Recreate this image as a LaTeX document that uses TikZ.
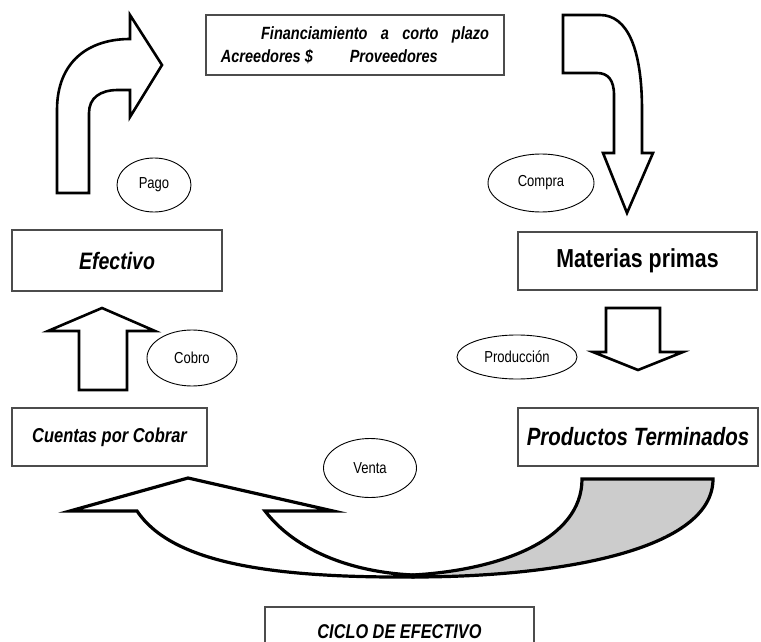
\documentclass[tikz,border=0pt]{standalone}
\usepackage{fontspec}
\usepackage{graphicx}
\setmainfont{Liberation Sans}
\usetikzlibrary{shapes.geometric}
\newcommand{\estr}[1]{\scalebox{0.82}[1]{#1}}
\begin{document}
\begin{tikzpicture}[x=1pt,y=-1pt,
	caja/.style={draw=black!70,line width=1.4pt,inner sep=0pt},
	globo/.style={draw,ellipse,line width=0.9pt,inner sep=0pt,font=\fontsize{15.9}{18}\selectfont},
	flecha/.style={draw,line width=2.6pt,fill=white}]
	\useasboundingbox (0,0) rectangle (761,642);
	% cajas
	\node[caja,minimum width=298,minimum height=60,align=left,font=\fontsize{17.7}{23}\selectfont\bfseries\itshape] (financ) at (355,45) {\estr{\makebox[327pt][s]{\hspace*{49pt}Financiamiento a corto plazo}}\\\estr{Acreedores \$\hspace{45pt}Proveedores}};
	\node[caja,minimum width=210,minimum height=61,font=\fontsize{23.8}{26}\selectfont\bfseries\itshape] (efectivo) at (117,260.5) {\estr{Efectivo}};
	\node[caja,minimum width=239,minimum height=58,font=\fontsize{26}{28}\selectfont\bfseries] (materias) at (637.5,261) {\estr{Materias primas}};
	\node[caja,minimum width=195,minimum height=58,font=\fontsize{20.1}{22}\selectfont\bfseries\itshape] (cuentas) at (109.5,437) {\estr{Cuentas por Cobrar}};
	\node[caja,minimum width=240,minimum height=58,font=\fontsize{25}{27}\selectfont\bfseries\itshape] (productos) at (638,437) {\estr{Productos Terminados}};
	\node[caja,minimum width=269,minimum height=50,font=\fontsize{19.9}{22}\selectfont\bfseries\itshape] (ciclo) at (399.5,632) {\estr{CICLO DE EFECTIVO}};
	% flechas
	\draw[flecha] (57,193) -- (57,110) .. controls (57,62) and (88,39) .. (130,39) -- (130,15) -- (162,65) -- (130,117) -- (130,90) -- (118,90) .. controls (100,90) and (89,98) .. (89,113) -- (89,193) -- cycle;
	\draw[flecha] (563,15) -- (600,15) .. controls (628,15) and (642,50) .. (642,110) -- (642,153) -- (653,153) -- (627,213) -- (603,153) -- (614,153) -- (614,95) .. controls (614,80) and (608,73) .. (597,73) -- (563,73) -- cycle;
	\draw[flecha] (79,390) -- (79,331) -- (48,331) -- (102,308) -- (155,331) -- (127,331) -- (127,390) -- cycle;
	\draw[flecha] (606,308) -- (660,308) -- (660,352) -- (683,352) -- (638,370) -- (593,352) -- (606,352) -- cycle;
	\draw[flecha,line width=3.2pt] (137,511) -- (70,511) -- (188,478) -- (333,511) -- (265,511) .. controls (295,550) and (350,572) .. (413,575) -- (413,577) .. controls (260,578) and (170,560) .. (137,511) -- cycle;
	\draw[flecha,line width=3.2pt,fill=black!20] (413,575) .. controls (500,570) and (582,540) .. (582,479) -- (713,479) .. controls (713,550) and (560,577) .. (413,577) -- cycle;
	% globos
	\node[globo,minimum width=74,minimum height=54] (pago) at (154,185) {\estr{Pago}};
	\node[globo,minimum width=106,minimum height=58] (compra) at (541,183) {\estr{Compra}};
	\node[globo,minimum width=90,minimum height=56] (cobro) at (192,358) {\estr{Cobro}};
	\node[globo,minimum width=120,minimum height=44] (produccion) at (517,357) {\estr{Producción}};
	\node[globo,minimum width=93,minimum height=59] (venta) at (370,468) {\estr{Venta}};
\end{tikzpicture}
\end{document}
